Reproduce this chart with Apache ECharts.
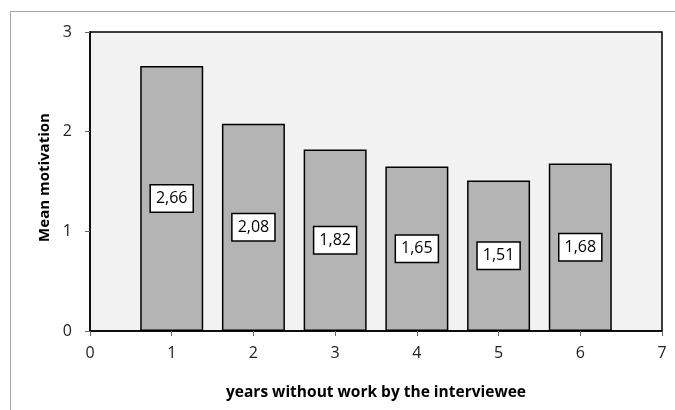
<!DOCTYPE html>
<html><head><meta charset="utf-8">
<script src="https://cdn.jsdelivr.net/npm/echarts@6/dist/echarts.min.js"></script>
<style>html,body{margin:0;padding:0;background:#fff}#c{width:675px;height:410px}
#frame{position:absolute;left:10px;top:11px;width:700px;height:420px;border:1px solid #a6a6a6;pointer-events:none}</style>
</head><body><div id="c"></div><div id="frame"></div>
<script>
const years = [1, 2, 3, 4, 5, 6];
const meanMotivation = [2.66, 2.08, 1.82, 1.65, 1.51, 1.68];
const xTicks = [0, 1, 2, 3, 4, 5, 6, 7];
const yTicks = [0, 1, 2, 3];

const chart = echarts.init(document.getElementById('c'), null, {renderer: 'canvas'});
const font = '"Open Sans", "DejaVu Sans", sans-serif';
chart.setOption({
  animation: false,
  grid: {left: 90, right: 13, top: 32, bottom: 79, show: true, backgroundColor: '#f2f2f2', borderColor: '#000', borderWidth: 1.5},
  xAxis: {
    type: 'value', min: xTicks[0], max: xTicks[xTicks.length - 1], interval: 1,
    name: 'years without work by the interviewee', nameLocation: 'middle', nameGap: 54,
    nameTextStyle: {fontFamily: font, fontWeight: 'bold', fontSize: 15.5, color: '#000'},
    axisLine: {show: true, lineStyle: {color: '#000', width: 1.5}},
    axisTick: {show: true, length: 5, lineStyle: {color: '#666'}},
    axisLabel: {fontFamily: font, fontSize: 16, color: '#222', margin: 14},
    splitLine: {show: false}
  },
  yAxis: {
    type: 'value', min: yTicks[0], max: yTicks[yTicks.length - 1], interval: 1,
    name: 'Mean motivation', nameLocation: 'middle', nameGap: 37,
    nameTextStyle: {fontFamily: font, fontWeight: 'bold', fontSize: 15, color: '#000', padding: [0, 0, 0, 8]},
    axisLine: {show: true, lineStyle: {color: '#000', width: 1.5}},
    axisTick: {show: true, length: 5, lineStyle: {color: '#666'}},
    axisLabel: {fontFamily: font, fontSize: 16, color: '#222', margin: 18},
    splitLine: {show: false}
  },
  series: [{
    type: 'bar',
    data: years.map((y, i) => [y, meanMotivation[i]]),
    barWidth: 63,
    itemStyle: {color: '#b4b4b4', borderColor: '#000', borderWidth: 1.5},
    label: {
      show: true, position: 'inside',
      formatter: p => p.value[1].toFixed(2).replace('.', ','),
      fontFamily: font, fontSize: 16, color: '#000',
      backgroundColor: '#fff', borderColor: '#000', borderWidth: 1.5, padding: [6, 5, 4, 5]
    }
  }]
});
</script></body></html>
